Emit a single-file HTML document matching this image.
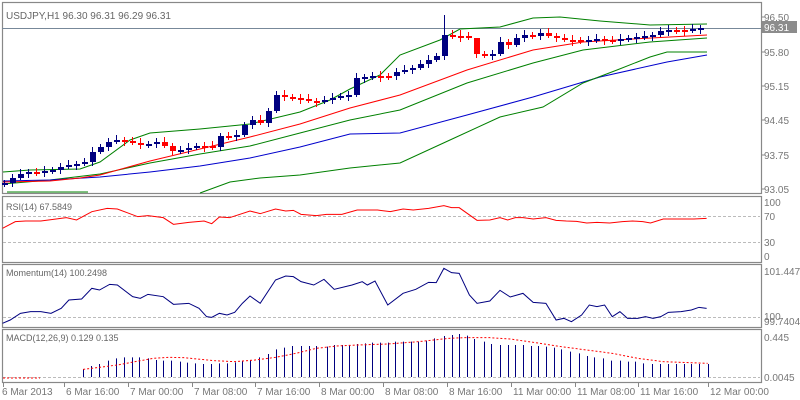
<!DOCTYPE html>
<html><head><meta charset="utf-8"><style>
html,body{margin:0;padding:0;background:#fff;}
svg{display:block;font-family:"Liberation Sans",sans-serif;}
</style></head><body>
<svg id="s" width="800" height="400" xmlns="http://www.w3.org/2000/svg">
<rect width="800" height="400" fill="#fff"/>
</svg>
<script>
(function(){
var s=document.getElementById('s');var NS='http://www.w3.org/2000/svg';
function el(t,a,txt){var e=document.createElementNS(NS,t);for(var q in a)e.setAttribute(q,a[q]);if(txt!=null)e.textContent=txt;s.appendChild(e);return e;}
function pl(pts,c,w,dash){el('polyline',{points:pts.map(function(p){return p[0]+','+p[1]}).join(' '),fill:'none',stroke:c,'stroke-width':w||1,'stroke-dasharray':dash||'none'});}
function txt(x,y,t,c,sz,anchor){el('text',{x:x,y:y,fill:c||'#666','font-size':sz||10,'text-anchor':anchor||'start'},t);}
var G='#888';
[[2,2,761,193],[2,196,761,262],[2,264,761,327],[2,329,761,382]].forEach(function(r){el('rect',{x:r[0]+0.5,y:r[1]+0.5,width:r[2]-r[0],height:r[3]-r[1],fill:'none',stroke:G,'stroke-width':1.2});});
el('line',{x1:2,y1:28.5,x2:761,y2:28.5,stroke:'#778899','stroke-width':1});
txt(6,19,'USDJPY,H1  96.30 96.31 96.29 96.31','#666',10);
[['96.50',17],['95.80',52],['95.15',86],['94.45',120],['93.75',155],['93.05',189]].forEach(function(l){txt(764,l[1]+4,l[0],'#777',10);el('line',{x1:761,y1:l[1],x2:765,y2:l[1],stroke:G});});
el('rect',{x:762,y:21,width:35,height:12,fill:'#8c8c8c'});txt(764,31,'96.31','#fff',10);
pl([[3,172],[30,170],[80,169],[100,162],[130,140],[150,133],[200,129],[250,124],[300,112],[330,100],[350,89],[380,75],[400,55],[440,40],[460,29],[500,27],[533,18],[560,17],[600,21],[650,25],[707,24]],'#008000');
pl([[3,184],[50,180],[100,174],[150,163],[200,154],[250,146],[300,133],[350,120],[400,110],[467,83],[533,63],[583,50],[650,42],[707,38]],'#008000');
pl([[3,181],[50,180],[100,177],[150,172],[200,166],[250,158],[300,147],[350,134],[400,133],[467,115],[533,97],[600,77],[667,62],[707,55]],'#0000cc');
pl([[3,182],[50,181],[80,178],[100,175],[150,161],[200,149],[250,137],[300,124],[350,108],[400,95],[467,70],[533,50],[583,42],[633,39],[707,35]],'#ff0000');
pl([[7,192],[88,192]],'#008000');
pl([[200,193],[230,182],[260,178],[300,175],[350,168],[400,163],[450,140],[500,117],[543,107],[583,83],[617,70],[650,57],[667,52],[707,52]],'#008000');
var cl=[183,178,174,172,172,171,170,167,165,164,162,152,147,142,140,141,143,145,144,142,146,151,150,148,146,146,147,136,136,135,125,120,123,111,95,97,98,99,101,101,100,98,96,95,78,77,76,76,76,72,70,68,64,60,56,35,36,36,38,54,55,54,42,45,38,35,36,33,36,38,40,40,41,40,39,40,40,39,38,37,36,35,31,30,30,30,29,28];
var hi={55:15,57:30,59:42};
var prev=185;
for(var i=0;i<cl.length;i++){var cx=4+i*8,o=prev,c=cl[i];var up=c<o;var col=up?'#000080':'#ff0000';
 var bt=Math.min(o,c),bb=Math.max(o,c);if(bb-bt<2){bb=bt+2;}
 var h=(hi[i]!==undefined)?hi[i]:bt-3-(i%3);var lo=bb+2+(i%2)*2;
 el('line',{x1:cx+0.5,y1:h,x2:cx+0.5,y2:lo,stroke:col});
 el('rect',{x:cx-2,y:bt,width:6,height:bb-bt,fill:col});prev=c;}
txt(6,210,'RSI(14) 67.5849','#666',9);
[['100',202],['70',216],['30',242],['0',256]].forEach(function(l){txt(764,l[1]+4,l[0],'#777',10);});
el('line',{x1:3,y1:216.5,x2:760,y2:216.5,stroke:'#bbb','stroke-dasharray':'3,2'});
el('line',{x1:3,y1:242.5,x2:760,y2:242.5,stroke:'#bbb','stroke-dasharray':'3,2'});
var k=1.96;
function tr(a){return a.map(function(p){return [p[0]/k,195+p[1]/3];});}
pl(tr([[5,100],[30,80],[50,78],[80,78],[110,72],[130,68],[150,75],[180,50],[210,40],[230,42],[270,65],[290,62],[320,68],[340,88],[370,82],[400,78],[415,86],[430,66],[450,68],[490,48],[510,56],[540,42],[560,48],[575,46],[590,58],[620,62],[640,58],[670,58],[700,45],[740,45],[765,50],[790,42],[810,45],[840,40],[870,32],[885,38],[900,38],[935,76],[960,75],[980,68],[995,75],[1010,68],[1025,68],[1045,72],[1070,68],[1090,76],[1110,78],[1130,79],[1150,84],[1170,82],[1195,84],[1220,80],[1240,78],[1260,80],[1275,84],[1300,72],[1330,72],[1360,72],[1385,70]]),'#ff0000');
txt(6,276,'Momentum(14) 100.2498','#666',9);
txt(764,275,'101.4476','#777',10);txt(764,320,'100','#777',10);txt(764,325,'99.7404','#777',10);
el('line',{x1:3,y1:317.5,x2:760,y2:317.5,stroke:'#bbb','stroke-dasharray':'3,2'});
pl(tr([[5,385],[20,375],[40,355],[60,350],[80,350],[100,355],[120,340],[135,315],[160,312],[180,280],[195,285],[215,268],[230,270],[260,305],[275,310],[290,298],[320,305],[340,328],[370,325],[390,340],[405,365],[415,367],[430,355],[445,360],[460,352],[475,325],[490,303],[510,325],[540,255],[560,243],[575,245],[590,260],[615,270],[635,253],[655,283],[690,270],[710,260],[720,270],[735,258],[760,330],[790,295],[815,283],[840,262],[855,263],[870,220],[885,233],[900,235],[920,300],[935,325],[960,318],[980,286],[1000,306],[1025,295],[1045,322],[1070,325],[1090,375],[1105,370],[1120,380],[1140,360],[1155,330],[1170,335],[1185,330],[1200,365],[1215,350],[1230,370],[1250,370],[1265,365],[1280,370],[1295,365],[1310,352],[1335,350],[1355,345],[1370,337],[1385,340]]),'#000080');
txt(6,341,'MACD(12,26,9) 0.129 0.135','#666',9);
txt(764,341,'0.445','#777',10);txt(764,381,'0.0045','#777',10);
el('line',{x1:3,y1:377.5,x2:760,y2:377.5,stroke:'#bbb','stroke-dasharray':'3,2'});
var bars=[[163,522],[178,513],[195,507],[212,497],[228,490],[243,487],[258,487],[273,487],[290,490],[305,495],[320,497],[335,497],[352,500],[367,503],[383,505],[398,507],[413,507],[430,505],[445,505],[460,502],[475,497],[490,495],[508,487],[525,477],[540,463],[557,458],[573,453],[590,453],[605,453],[620,453],[640,455],[655,450],[670,450],[685,450],[700,447],[715,445],[730,443],[745,443],[760,443],[775,440],[790,440],[805,440],[820,440],[835,437],[850,430],[870,423],[885,420],[900,417],[915,422],[930,432],[948,440],[963,447],[980,450],[995,450],[1010,450],[1025,450],[1040,453],[1055,453],[1070,455],[1085,458],[1100,463],[1118,470],[1135,475],[1150,483],[1165,487],[1182,490],[1198,497],[1215,497],[1230,500],[1245,500],[1260,505],[1278,507],[1293,507],[1310,507],[1325,507],[1340,507],[1355,507],[1370,507],[1387,507]];
bars.forEach(function(b){var bx=Math.round(b[0]/k)+0.5;el('line',{x1:bx,y1:195+b[1]/3,x2:bx,y2:377,stroke:'#000080'});});
pl(tr([[163,523],[230,510],[300,490],[330,487],[360,488],[420,497],[460,500],[500,495],[540,487],[580,475],[620,460],[660,453],[700,450],[760,447],[820,440],[880,430],[910,428],[960,428],[1000,432],[1050,443],[1100,455],[1150,465],[1200,475],[1250,490],[1300,500],[1387,505]]),'#ff0000',1,'2,2');
pl([[3,378],[40,378]],'#ff0000',1,'2,2');
[['6 Mar 2013',2],['6 Mar 16:00',66],['7 Mar 00:00',130],['7 Mar 08:00',194],['7 Mar 16:00',257],['8 Mar 00:00',321],['8 Mar 08:00',385],['8 Mar 16:00',449],['11 Mar 00:00',513],['11 Mar 08:00',577],['11 Mar 16:00',640],['12 Mar 00:00',710]].forEach(function(l,i){txt(l[1],395,l[0],'#777',10);var tx=(i==0?3:l[1]-2)+0.5;el('line',{x1:tx,y1:383,x2:tx,y2:387,stroke:G});});
})();
</script>
</body></html>
